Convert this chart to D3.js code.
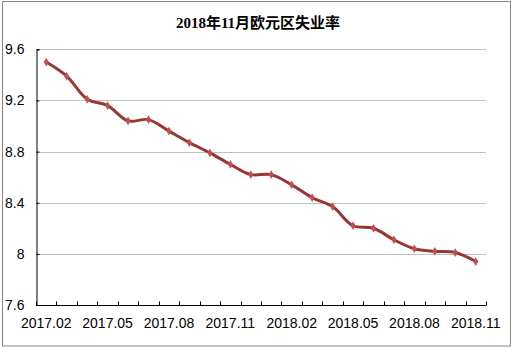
<!DOCTYPE html>
<html>
<head>
<meta charset="utf-8">
<script src="https://cdn.jsdelivr.net/npm/d3@7"></script>
<style>
  body { margin: 0; background: #fff; }
  svg { display: block; }
</style>
</head>
<body>
<svg id="chart" width="511" height="348"></svg>
<script>
var months = ["2017.02", "2017.03", "2017.04", "2017.05", "2017.06", "2017.07", "2017.08", "2017.09",
    "2017.10", "2017.11", "2017.12", "2018.01", "2018.02", "2018.03", "2018.04", "2018.05",
    "2018.06", "2018.07", "2018.08", "2018.09", "2018.10", "2018.11"]
var rates = [9.5, 9.39, 9.21, 9.16, 9.04, 9.05, 8.96, 8.87, 8.79, 8.7, 8.62, 8.62,
    8.54, 8.44, 8.37, 8.22, 8.2, 8.11, 8.04, 8.02, 8.01, 7.94]
var yTicks = [7.6, 8, 8.4, 8.8, 9.2, 9.6]
var labelMonths = ["2017.02", "2017.05", "2017.08", "2017.11", "2018.02", "2018.05", "2018.08", "2018.11"]
var title = "2018年11月欧元区失业率"

var svg = d3.select("#chart")
var plotLeft = 36, plotRight = 486, plotTop = 49.3, plotBottom = 305

// chart frame
svg.append("rect")
    .attr("x", 2.5).attr("y", 1.5)
    .attr("width", 508).attr("height", 344.5)
    .attr("fill", "#fff")
    .attr("stroke", "#868686")
    .attr("stroke-width", 1)

svg.append("text")
    .attr("x", 258).attr("y", 28)
    .attr("text-anchor", "middle")
    .attr("font-family", "'Liberation Serif', 'Noto Sans CJK SC', serif")
    .attr("font-size", 15)
    .attr("font-weight", "bold")
    .attr("fill", "#000")
    .text(title)

var x = d3.scaleBand().domain(months).range([plotLeft, plotRight])
var y = d3.scaleLinear().domain([7.6, 9.6]).range([plotBottom, plotTop])

// gridlines
svg.append("g")
    .selectAll("line")
    .data(yTicks.filter(d => d > 7.6))
    .enter().append("line")
    .attr("x1", plotLeft).attr("x2", plotRight)
    .attr("y1", d => Math.round(y(d)) + 0.5)
    .attr("y2", d => Math.round(y(d)) + 0.5)
    .attr("stroke", "#bfbfbf")
    .attr("stroke-width", 1)

// y axis
var yAxis = svg.append("g")
    .attr("transform", "translate(" + (plotLeft + 0.5) + ",0)")
    .call(d3.axisRight(y).tickValues(yTicks).tickSize(3).tickFormat(d3.format("")))
yAxis.select(".domain").attr("stroke", "#000")
yAxis.selectAll(".tick line").attr("stroke", "#000")
yAxis.selectAll(".tick text")
    .attr("x", -12)
    .attr("text-anchor", "end")
    .attr("font-family", "'Liberation Sans', Arial, sans-serif")
    .attr("font-size", 14)
    .attr("fill", "#000")

// x axis with inward ticks at band edges
var xAxis = svg.append("g")
    .attr("transform", "translate(0," + (Math.round(plotBottom) + 0.5) + ")")
xAxis.append("line")
    .attr("x1", plotLeft).attr("x2", plotRight)
    .attr("stroke", "#000")
xAxis.selectAll(".edge")
    .data(months.map(d => x(d)).concat([plotRight]))
    .enter().append("line")
    .attr("class", "edge")
    .attr("x1", d => Math.round(d) + 0.5).attr("x2", d => Math.round(d) + 0.5)
    .attr("y1", 0).attr("y2", -4)
    .attr("stroke", "#000")
xAxis.selectAll("text")
    .data(labelMonths)
    .enter().append("text")
    .attr("x", d => x(d) + x.bandwidth() / 2)
    .attr("y", 22)
    .attr("text-anchor", "middle")
    .attr("font-family", "'Liberation Sans', Arial, sans-serif")
    .attr("font-size", 14)
    .attr("fill", "#000")
    .text(d => d)

// line
var line = d3.line()
    .x((d, i) => x(months[i]) + x.bandwidth() / 2)
    .y(d => y(d))
    .curve(d3.curveCatmullRom.alpha(0.5))

svg.append("path")
    .datum(rates)
    .attr("d", line)
    .attr("fill", "none")
    .attr("stroke", "#953735")
    .attr("stroke-width", 3)
    .attr("stroke-linejoin", "round")

svg.append("g")
    .selectAll("path")
    .data(rates)
    .enter().append("path")
    .attr("d", d3.symbol().type(d3.symbolDiamond).size(22))
    .attr("transform", (d, i) => "translate(" + (x(months[i]) + x.bandwidth() / 2) + "," + y(d) + ")")
    .attr("fill", "#c0504d")
</script>
</body>
</html>
